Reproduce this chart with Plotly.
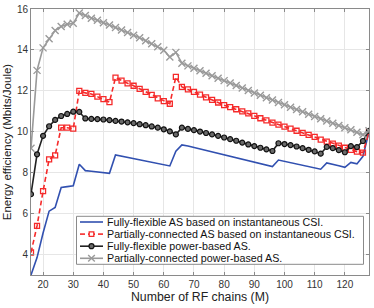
import plotly.graph_objects as go

M = list(range(16, 129, 2))

ff_inst = [3.0, 3.85, 5.05, 6.12, 6.3, 7.28, 7.32, 7.36, 8.41, 8.1, 8.07, 8.04, 8.0, 7.97,
           8.87, 8.81, 8.75, 8.69, 8.63, 8.57, 8.51, 8.45, 8.39, 8.33, 9.05, 9.36, 9.3, 9.23,
           9.16, 9.09, 9.02, 8.95, 8.88, 8.81, 8.74, 8.67, 8.6, 8.53, 8.46, 8.38, 8.3, 8.62,
           8.56, 8.5, 8.43, 8.37, 8.3, 8.24, 8.17, 8.48, 8.42, 8.34, 8.26, 8.5, 8.43, 8.8, 10.0]

pc_inst = [4.1, 5.4, 7.1, 8.65, 8.85, 10.2, 10.2, 10.15, 12.0, 11.9, 11.85, 11.72, 11.6, 11.45,
           12.65, 12.5, 12.37, 12.25, 12.1, 11.95, 11.8, 11.63, 11.5, 11.37, 12.68, 12.19, 12.07,
           11.95, 11.82, 11.68, 11.56, 11.43, 11.3, 11.2, 11.1, 11.0, 10.9, 10.78, 10.66, 10.56,
           10.45, 10.35, 10.25, 10.15, 10.05, 9.95, 9.85, 9.75, 9.62, 9.52, 9.42, 9.32, 9.22,
           9.12, 9.03, 8.98, 10.0]

ff_power = [6.95, 8.9, 9.8, 10.27, 10.58, 10.77, 10.87, 10.98, 10.97, 10.65, 10.63, 10.62, 10.6,
            10.57, 10.53, 10.5, 10.46, 10.42, 10.37, 10.32, 10.26, 10.2, 10.12, 10.02, 9.87, 10.2,
            10.14, 10.08, 10.01, 9.94, 9.87, 9.8, 9.72, 9.64, 9.56, 9.47, 9.38, 9.3, 9.22, 9.14,
            9.06, 9.44, 9.4, 9.35, 9.28, 9.2, 9.12, 9.04, 8.93, 9.26, 9.2, 9.1, 9.0, 9.3, 9.25,
            9.55, 10.05]

pc_power = [9.2, 13.0, 14.1, 14.55, 14.95, 15.15, 15.25, 15.3, 15.8, 15.68, 15.55, 15.45, 15.33,
            15.22, 15.1, 14.97, 14.85, 14.72, 14.6, 14.45, 14.3, 14.15, 13.98, 13.65, 13.88, 13.35,
            13.22, 13.1, 12.98, 12.86, 12.74, 12.62, 12.5, 12.38, 12.26, 12.14, 12.02, 11.9, 11.78,
            11.66, 11.55, 11.43, 11.32, 11.2, 11.09, 10.98, 10.86, 10.75, 10.64, 10.53, 10.42,
            10.31, 10.2, 10.1, 9.98, 9.85, 10.05]

names = ["Fully-flexible AS based on instantaneous CSI.",
         "Partially-connected AS based on instantaneous CSI.",
         "Fully-flexible power-based AS.",
         "Partially-connected power-based AS."]

x_ticks = [20, 30, 40, 50, 60, 70, 80, 90, 100, 110, 120]
y_ticks = [4, 6, 8, 10, 12, 14, 16]

BLUE = "#3150b0"
RED = "#f52a2a"
BLACK = "#222222"
GRAY = "#9a9a9a"
FONT = "Liberation Sans, Arial, sans-serif"

fig = go.Figure()
fig.add_trace(go.Scatter(x=M, y=ff_inst, mode="lines", name=names[0],
                         line=dict(color=BLUE, width=1.6)))
fig.add_trace(go.Scatter(x=M, y=pc_inst, mode="lines+markers", name=names[1],
                         line=dict(color=RED, width=1.6, dash="5px,3px"),
                         marker=dict(symbol="square-open", size=5, color=RED,
                                     line=dict(width=1.3, color=RED))))
fig.add_trace(go.Scatter(x=M, y=ff_power, mode="lines+markers", name=names[2],
                         line=dict(color=BLACK, width=1.6),
                         marker=dict(symbol="circle", size=5, color="#6a6a6a",
                                     line=dict(width=1.2, color="#111111"))))
fig.add_trace(go.Scatter(x=M, y=pc_power, mode="lines+markers", name=names[3],
                         line=dict(color=GRAY, width=1.6),
                         marker=dict(symbol="x-thin", size=7, color=GRAY,
                                     line=dict(width=1.4, color=GRAY))))

# custom compact legend (paper coordinates)
px0, px1 = 31.0, 369.0
py0, py1 = 9.0, 275.0
def pxx(v):
    return (v - px0) / (px1 - px0)
def pyy(v):
    return (py1 - v) / (py1 - py0)

shapes = [dict(type="rect", xref="paper", yref="paper",
               x0=pxx(76.5), x1=pxx(363.5), y0=pyy(264.3), y1=pyy(216.3),
               fillcolor="white", line=dict(color="#8a8a8a", width=1), layer="above")]
annotations = []
rows = [222.0, 234.1, 246.2, 258.3]
styles = [(BLUE, "solid", None), (RED, "dash", "square"), (BLACK, "solid", "circle"), (GRAY, "solid", "x")]
for i, (col, dash, mk) in enumerate(styles):
    yy = pyy(rows[i])
    if dash == "dash":
        for a, b in [(80, 85), (88, 89), (94, 95), (98, 103)]:
            shapes.append(dict(type="line", xref="paper", yref="paper", x0=pxx(a), x1=pxx(b),
                               y0=yy, y1=yy, line=dict(color=col, width=1.6), layer="above"))
    else:
        shapes.append(dict(type="line", xref="paper", yref="paper", x0=pxx(80), x1=pxx(103),
                           y0=yy, y1=yy, line=dict(color=col, width=1.6), layer="above"))
    cx = 91.5
    cy = rows[i]
    if mk == "square":
        shapes.append(dict(type="rect", xref="paper", yref="paper", x0=pxx(cx - 2.3), x1=pxx(cx + 2.3),
                           y0=pyy(cy + 2.3), y1=pyy(cy - 2.3), fillcolor="white",
                           line=dict(color=col, width=1.3), layer="above"))
    elif mk == "circle":
        shapes.append(dict(type="circle", xref="paper", yref="paper", x0=pxx(cx - 2.5), x1=pxx(cx + 2.5),
                           y0=pyy(cy + 2.5), y1=pyy(cy - 2.5), fillcolor="#6a6a6a",
                           line=dict(color="#111111", width=1.2), layer="above"))
    elif mk == "x":
        for (a, b, c, d) in [(-3.3, -3.3, 3.3, 3.3), (-3.3, 3.3, 3.3, -3.3)]:
            shapes.append(dict(type="line", xref="paper", yref="paper", x0=pxx(cx + a), x1=pxx(cx + c),
                               y0=pyy(cy + b), y1=pyy(cy + d), line=dict(color=col, width=1.4),
                               layer="above"))
    annotations.append(dict(xref="paper", yref="paper", x=pxx(106), y=yy, text=names[i],
                            showarrow=False, xanchor="left", yanchor="middle", borderpad=0,
                            font=dict(family=FONT, size=10.7, color="#111111")))

axis_common = dict(showgrid=True, gridcolor="#e6e6e6", gridwidth=1, zeroline=False,
                   showline=True, linecolor="#8a8a8a", linewidth=1, mirror="ticks",
                   ticks="inside", ticklen=3, tickcolor="#8a8a8a", automargin=False,
                   tickfont=dict(family=FONT, size=10, color="#333333"))

fig.update_layout(
    width=374, height=308,
    margin=dict(l=31, r=5, t=9, b=33),
    paper_bgcolor="white", plot_bgcolor="white",
    showlegend=False,
    shapes=shapes, annotations=annotations,
    xaxis=dict(range=[16, 128], tickvals=x_ticks,
               title=dict(text="Number of RF chains (M)", standoff=2,
                          font=dict(family=FONT, size=12.3, color="#222222")),
               **axis_common),
    yaxis=dict(range=[3, 16], tickvals=y_ticks,
               title=dict(text="Energy efficiency (Mbits/Joule)", standoff=2,
                          font=dict(family=FONT, size=11.5, color="#222222")),
               **axis_common),
)

fig.write_html("out.html", config={"displayModeBar": False},
               post_script="document.body.style.margin='0';document.body.style.overflow='hidden';")
